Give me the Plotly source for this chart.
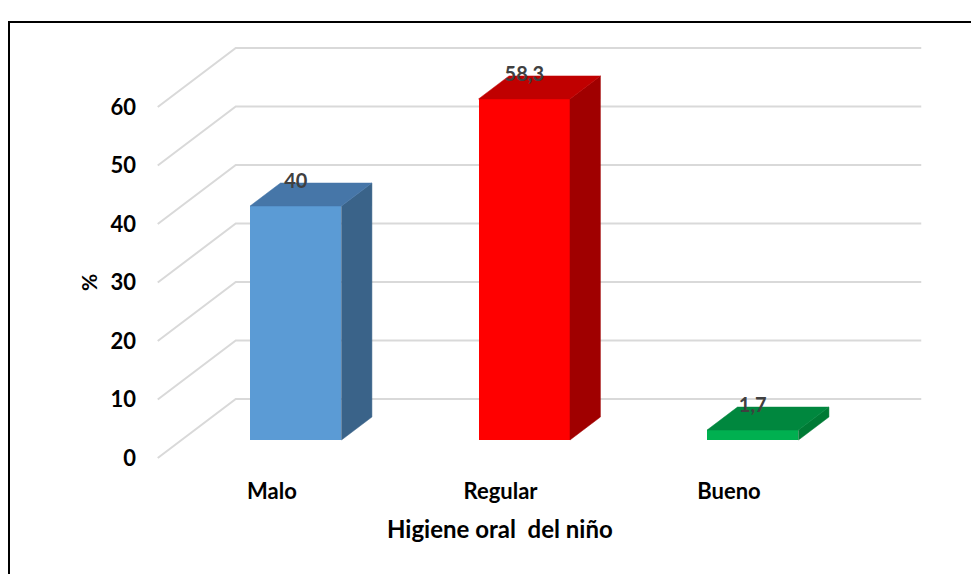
import plotly.graph_objects as go

# ---- data ----
categories = ["Malo", "Regular", "Bueno"]
values = [40, 58.3, 1.7]
y_ticks = [0, 10, 20, 30, 40, 50, 60]

front_colors = ["#5B9BD5", "#FF0000", "#00B050"]
top_colors = ["#4676A8", "#C00000", "#00873E"]
side_colors = ["#3A6389", "#A00000", "#007A35"]

# ---- geometry of the oblique 3D projection ----
W, H = 971, 574
M_L, M_R, M_T, M_B = 145, 0, 0, 102
CAT_PX = 228.5   # pixels per category step
VAL_PX = 5.85    # pixels per percentage point
X0_PX = 272      # pixel x of the first category on the front floor edge
Y0_PX = 458      # pixel y of value 0 on the front floor edge

DEPTH_DX = 78 / CAT_PX   # shift (category units) for the full floor depth
DEPTH_DY = 59 / VAL_PX   # shift (value units) for the full floor depth
BAR_D0, BAR_D1 = 0.305, 0.695   # depth span occupied by the columns
BAR_W = 0.4

x_range = [(M_L - X0_PX) / CAT_PX, (W - M_R - X0_PX) / CAT_PX]
y_range = [(Y0_PX - (H - M_B)) / VAL_PX, (Y0_PX - M_T) / VAL_PX]
pw = W - M_L - M_R
ph = H - M_T - M_B


def proj(x, d, v):
    return x + d * DEPTH_DX, v + d * DEPTH_DY


def paper_xy(px, py):
    return (px - M_L) / pw, 1 - (py - M_T) / ph


FONT = "Lato, Carlito, 'Open Sans', sans-serif"
idx = list(range(len(categories)))

fig = go.Figure()

# column front faces
fig.add_trace(go.Bar(
    x=[proj(i, BAR_D0, 0)[0] for i in idx],
    y=values,
    base=[proj(0, BAR_D0, 0)[1]] * len(values),
    width=BAR_W,
    marker=dict(color=front_colors, line=dict(width=0)),
    hoverinfo="skip",
))

# column side and top faces
for i, v in enumerate(values):
    xl, xr = i - BAR_W / 2, i + BAR_W / 2
    side = [proj(xr, BAR_D0, 0), proj(xr, BAR_D1, 0), proj(xr, BAR_D1, v), proj(xr, BAR_D0, v)]
    top = [proj(xl, BAR_D0, v), proj(xr, BAR_D0, v), proj(xr, BAR_D1, v), proj(xl, BAR_D1, v)]
    for pts, col in ((side, side_colors[i]), (top, top_colors[i])):
        xs = [p[0] for p in pts] + [pts[0][0]]
        ys = [p[1] for p in pts] + [pts[0][1]]
        fig.add_trace(go.Scatter(
            x=xs, y=ys, mode="lines", fill="toself", fillcolor=col,
            line=dict(color=col, width=0.5), hoverinfo="skip",
        ))

# value labels on the top edge of each column
fig.add_trace(go.Scatter(
    x=[proj(i, BAR_D0, 0)[0] for i in idx],
    y=[proj(0, BAR_D1, v)[1] for v in values],
    mode="text",
    text=["<b>" + f"{v:g}".replace(".", ",") + "</b>" for v in values],
    textposition="middle center",
    textfont=dict(family=FONT, size=20, color="#404040"),
    hoverinfo="skip",
    cliponaxis=False,
))

# side wall and back wall gridlines
for t in y_ticks:
    p0 = proj(-0.5, 0, t)
    p1 = proj(-0.5, 1, t)
    p2 = proj(len(categories) - 0.5, 1, t)
    fig.add_shape(
        type="path", xref="x", yref="y", layer="below",
        path=f"M {p0[0]},{p0[1]} L {p1[0]},{p1[1]} L {p2[0]},{p2[1]}",
        line=dict(color="#D9D9D9", width=2),
    )

# chart frame
fx0, fy1 = paper_xy(9, 22)
fig.add_shape(
    type="rect", xref="paper", yref="paper",
    x0=fx0, x1=1.05, y0=-0.5, y1=fy1,
    line=dict(color="black", width=2), fillcolor="rgba(0,0,0,0)",
)

# axis titles
tx, ty = paper_xy(88, 283)
fig.add_annotation(
    text="<b>%</b>", xref="paper", yref="paper", x=tx, y=ty,
    textangle=-90, showarrow=False, xanchor="center", yanchor="middle",
    font=dict(family=FONT, size=21, color="black"),
)
tx, ty = paper_xy(500, 528)
fig.add_annotation(
    text="<b>Higiene oral  del niño</b>", xref="paper", yref="paper", x=tx, y=ty,
    showarrow=False, xanchor="center", yanchor="middle",
    font=dict(family=FONT, size=24, color="black"),
)

fig.update_layout(
    width=W, height=H,
    margin=dict(l=M_L, r=M_R, t=M_T, b=M_B),
    paper_bgcolor="white", plot_bgcolor="white",
    showlegend=False,
    bargap=0,
    xaxis=dict(
        range=x_range, tickvals=idx, ticktext=[f"<b>{c}</b>" for c in categories],
        showgrid=False, zeroline=False, showline=False, ticks="",
        tickfont=dict(family=FONT, size=22, color="black"),
        ticklabelstandoff=4,
        fixedrange=True,
    ),
    yaxis=dict(
        range=y_range, tickvals=y_ticks,
        ticktext=[f"<b>{t}</b>" for t in y_ticks],
        showgrid=False, zeroline=False, showline=False, ticks="",
        tickfont=dict(family=FONT, size=22, color="black"),
        ticklabelstandoff=8,
        fixedrange=True,
    ),
)

fig.write_html("out.html")
